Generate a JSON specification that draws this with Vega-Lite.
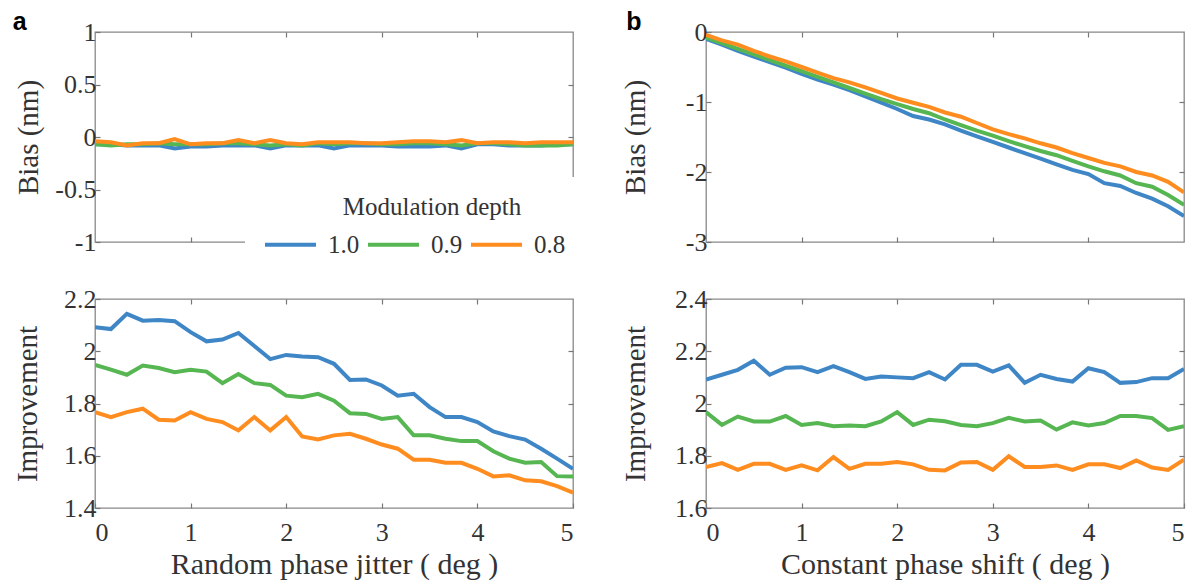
{
  "$schema": "https://vega.github.io/schema/vega-lite/v6.json",
  "padding": {"left": 12, "top": 9, "right": 5, "bottom": 2},
  "background": "white",
  "config": {
    "view": {"stroke": "#888", "strokeWidth": 1.3},
    "axis": {"domain": false, "grid": false, "tickSize": -5, "tickColor": "#777", "tickWidth": 1.2, "labelFont": "Liberation Serif, Times New Roman, serif", "labelFontSize": 26, "labelColor": "#333", "titleFont": "Liberation Serif, Times New Roman, serif", "titleFontSize": 29, "titleFontWeight": "normal", "titleColor": "#333", "labelPadding": 8},
    "axisX": {"labelPadding": 16, "titlePadding": 4, "titleFontSize": 30},
    "axisY": {"labelPadding": 4, "titlePadding": 16},
    "title": {"font": "Liberation Sans, Arial, sans-serif", "fontSize": 25, "fontWeight": "bold", "color": "#000", "anchor": "start", "frame": "bounds"}
  },
  "data": {"values": [
    {"p":"A1","d":"1.0","x":0,"y":-0.07},{"p":"A1","d":"1.0","x":0.1667,"y":-0.07},{"p":"A1","d":"1.0","x":0.3333,"y":-0.08},{"p":"A1","d":"1.0","x":0.5,"y":-0.08},{"p":"A1","d":"1.0","x":0.6667,"y":-0.08},{"p":"A1","d":"1.0","x":0.8333,"y":-0.11},{"p":"A1","d":"1.0","x":1,"y":-0.09},{"p":"A1","d":"1.0","x":1.1667,"y":-0.09},{"p":"A1","d":"1.0","x":1.3333,"y":-0.08},{"p":"A1","d":"1.0","x":1.5,"y":-0.08},{"p":"A1","d":"1.0","x":1.6667,"y":-0.08},{"p":"A1","d":"1.0","x":1.8333,"y":-0.11},{"p":"A1","d":"1.0","x":2,"y":-0.08},{"p":"A1","d":"1.0","x":2.1667,"y":-0.08},{"p":"A1","d":"1.0","x":2.3333,"y":-0.08},{"p":"A1","d":"1.0","x":2.5,"y":-0.11},{"p":"A1","d":"1.0","x":2.6667,"y":-0.08},{"p":"A1","d":"1.0","x":2.8333,"y":-0.08},{"p":"A1","d":"1.0","x":3,"y":-0.08},{"p":"A1","d":"1.0","x":3.1667,"y":-0.09},{"p":"A1","d":"1.0","x":3.3333,"y":-0.09},{"p":"A1","d":"1.0","x":3.5,"y":-0.09},{"p":"A1","d":"1.0","x":3.6667,"y":-0.08},{"p":"A1","d":"1.0","x":3.8333,"y":-0.11},{"p":"A1","d":"1.0","x":4,"y":-0.07},{"p":"A1","d":"1.0","x":4.1667,"y":-0.07},{"p":"A1","d":"1.0","x":4.3333,"y":-0.08},{"p":"A1","d":"1.0","x":4.5,"y":-0.08},{"p":"A1","d":"1.0","x":4.6667,"y":-0.08},{"p":"A1","d":"1.0","x":4.8333,"y":-0.07},{"p":"A1","d":"1.0","x":5,"y":-0.07},
    {"p":"A1","d":"0.9","x":0,"y":-0.07},{"p":"A1","d":"0.9","x":0.1667,"y":-0.08},{"p":"A1","d":"0.9","x":0.3333,"y":-0.07},{"p":"A1","d":"0.9","x":0.5,"y":-0.07},{"p":"A1","d":"0.9","x":0.6667,"y":-0.06},{"p":"A1","d":"0.9","x":0.8333,"y":-0.07},{"p":"A1","d":"0.9","x":1,"y":-0.07},{"p":"A1","d":"0.9","x":1.1667,"y":-0.07},{"p":"A1","d":"0.9","x":1.3333,"y":-0.06},{"p":"A1","d":"0.9","x":1.5,"y":-0.06},{"p":"A1","d":"0.9","x":1.6667,"y":-0.07},{"p":"A1","d":"0.9","x":1.8333,"y":-0.08},{"p":"A1","d":"0.9","x":2,"y":-0.07},{"p":"A1","d":"0.9","x":2.1667,"y":-0.08},{"p":"A1","d":"0.9","x":2.3333,"y":-0.06},{"p":"A1","d":"0.9","x":2.5,"y":-0.07},{"p":"A1","d":"0.9","x":2.6667,"y":-0.06},{"p":"A1","d":"0.9","x":2.8333,"y":-0.06},{"p":"A1","d":"0.9","x":3,"y":-0.07},{"p":"A1","d":"0.9","x":3.1667,"y":-0.07},{"p":"A1","d":"0.9","x":3.3333,"y":-0.06},{"p":"A1","d":"0.9","x":3.5,"y":-0.06},{"p":"A1","d":"0.9","x":3.6667,"y":-0.07},{"p":"A1","d":"0.9","x":3.8333,"y":-0.08},{"p":"A1","d":"0.9","x":4,"y":-0.06},{"p":"A1","d":"0.9","x":4.1667,"y":-0.06},{"p":"A1","d":"0.9","x":4.3333,"y":-0.07},{"p":"A1","d":"0.9","x":4.5,"y":-0.08},{"p":"A1","d":"0.9","x":4.6667,"y":-0.08},{"p":"A1","d":"0.9","x":4.8333,"y":-0.08},{"p":"A1","d":"0.9","x":5,"y":-0.07},
    {"p":"A1","d":"0.8","x":0,"y":-0.04},{"p":"A1","d":"0.8","x":0.1667,"y":-0.05},{"p":"A1","d":"0.8","x":0.3333,"y":-0.08},{"p":"A1","d":"0.8","x":0.5,"y":-0.06},{"p":"A1","d":"0.8","x":0.6667,"y":-0.06},{"p":"A1","d":"0.8","x":0.8333,"y":-0.02},{"p":"A1","d":"0.8","x":1,"y":-0.07},{"p":"A1","d":"0.8","x":1.1667,"y":-0.06},{"p":"A1","d":"0.8","x":1.3333,"y":-0.06},{"p":"A1","d":"0.8","x":1.5,"y":-0.03},{"p":"A1","d":"0.8","x":1.6667,"y":-0.06},{"p":"A1","d":"0.8","x":1.8333,"y":-0.03},{"p":"A1","d":"0.8","x":2,"y":-0.06},{"p":"A1","d":"0.8","x":2.1667,"y":-0.07},{"p":"A1","d":"0.8","x":2.3333,"y":-0.05},{"p":"A1","d":"0.8","x":2.5,"y":-0.05},{"p":"A1","d":"0.8","x":2.6667,"y":-0.05},{"p":"A1","d":"0.8","x":2.8333,"y":-0.06},{"p":"A1","d":"0.8","x":3,"y":-0.06},{"p":"A1","d":"0.8","x":3.1667,"y":-0.05},{"p":"A1","d":"0.8","x":3.3333,"y":-0.04},{"p":"A1","d":"0.8","x":3.5,"y":-0.04},{"p":"A1","d":"0.8","x":3.6667,"y":-0.05},{"p":"A1","d":"0.8","x":3.8333,"y":-0.03},{"p":"A1","d":"0.8","x":4,"y":-0.06},{"p":"A1","d":"0.8","x":4.1667,"y":-0.05},{"p":"A1","d":"0.8","x":4.3333,"y":-0.05},{"p":"A1","d":"0.8","x":4.5,"y":-0.06},{"p":"A1","d":"0.8","x":4.6667,"y":-0.05},{"p":"A1","d":"0.8","x":4.8333,"y":-0.05},{"p":"A1","d":"0.8","x":5,"y":-0.05},
    {"p":"B1","d":"1.0","x":0,"y":-0.10},{"p":"B1","d":"1.0","x":0.1667,"y":-0.18},{"p":"B1","d":"1.0","x":0.3333,"y":-0.27},{"p":"B1","d":"1.0","x":0.5,"y":-0.35},{"p":"B1","d":"1.0","x":0.6667,"y":-0.43},{"p":"B1","d":"1.0","x":0.8333,"y":-0.51},{"p":"B1","d":"1.0","x":1,"y":-0.60},{"p":"B1","d":"1.0","x":1.1667,"y":-0.68},{"p":"B1","d":"1.0","x":1.3333,"y":-0.75},{"p":"B1","d":"1.0","x":1.5,"y":-0.83},{"p":"B1","d":"1.0","x":1.6667,"y":-0.92},{"p":"B1","d":"1.0","x":1.8333,"y":-1.01},{"p":"B1","d":"1.0","x":2,"y":-1.10},{"p":"B1","d":"1.0","x":2.1667,"y":-1.20},{"p":"B1","d":"1.0","x":2.3333,"y":-1.25},{"p":"B1","d":"1.0","x":2.5,"y":-1.32},{"p":"B1","d":"1.0","x":2.6667,"y":-1.41},{"p":"B1","d":"1.0","x":2.8333,"y":-1.49},{"p":"B1","d":"1.0","x":3,"y":-1.57},{"p":"B1","d":"1.0","x":3.1667,"y":-1.65},{"p":"B1","d":"1.0","x":3.3333,"y":-1.73},{"p":"B1","d":"1.0","x":3.5,"y":-1.81},{"p":"B1","d":"1.0","x":3.6667,"y":-1.89},{"p":"B1","d":"1.0","x":3.8333,"y":-1.97},{"p":"B1","d":"1.0","x":4,"y":-2.03},{"p":"B1","d":"1.0","x":4.1667,"y":-2.16},{"p":"B1","d":"1.0","x":4.3333,"y":-2.20},{"p":"B1","d":"1.0","x":4.5,"y":-2.30},{"p":"B1","d":"1.0","x":4.6667,"y":-2.38},{"p":"B1","d":"1.0","x":4.8333,"y":-2.49},{"p":"B1","d":"1.0","x":5,"y":-2.63},
    {"p":"B1","d":"0.9","x":0,"y":-0.08},{"p":"B1","d":"0.9","x":0.1667,"y":-0.16},{"p":"B1","d":"0.9","x":0.3333,"y":-0.24},{"p":"B1","d":"0.9","x":0.5,"y":-0.32},{"p":"B1","d":"0.9","x":0.6667,"y":-0.40},{"p":"B1","d":"0.9","x":0.8333,"y":-0.48},{"p":"B1","d":"0.9","x":1,"y":-0.56},{"p":"B1","d":"0.9","x":1.1667,"y":-0.64},{"p":"B1","d":"0.9","x":1.3333,"y":-0.72},{"p":"B1","d":"0.9","x":1.5,"y":-0.80},{"p":"B1","d":"0.9","x":1.6667,"y":-0.88},{"p":"B1","d":"0.9","x":1.8333,"y":-0.96},{"p":"B1","d":"0.9","x":2,"y":-1.03},{"p":"B1","d":"0.9","x":2.1667,"y":-1.10},{"p":"B1","d":"0.9","x":2.3333,"y":-1.16},{"p":"B1","d":"0.9","x":2.5,"y":-1.25},{"p":"B1","d":"0.9","x":2.6667,"y":-1.33},{"p":"B1","d":"0.9","x":2.8333,"y":-1.41},{"p":"B1","d":"0.9","x":3,"y":-1.48},{"p":"B1","d":"0.9","x":3.1667,"y":-1.56},{"p":"B1","d":"0.9","x":3.3333,"y":-1.63},{"p":"B1","d":"0.9","x":3.5,"y":-1.70},{"p":"B1","d":"0.9","x":3.6667,"y":-1.76},{"p":"B1","d":"0.9","x":3.8333,"y":-1.84},{"p":"B1","d":"0.9","x":4,"y":-1.92},{"p":"B1","d":"0.9","x":4.1667,"y":-1.99},{"p":"B1","d":"0.9","x":4.3333,"y":-2.05},{"p":"B1","d":"0.9","x":4.5,"y":-2.16},{"p":"B1","d":"0.9","x":4.6667,"y":-2.21},{"p":"B1","d":"0.9","x":4.8333,"y":-2.33},{"p":"B1","d":"0.9","x":5,"y":-2.47},
    {"p":"B1","d":"0.8","x":0,"y":-0.04},{"p":"B1","d":"0.8","x":0.1667,"y":-0.12},{"p":"B1","d":"0.8","x":0.3333,"y":-0.18},{"p":"B1","d":"0.8","x":0.5,"y":-0.27},{"p":"B1","d":"0.8","x":0.6667,"y":-0.35},{"p":"B1","d":"0.8","x":0.8333,"y":-0.42},{"p":"B1","d":"0.8","x":1,"y":-0.50},{"p":"B1","d":"0.8","x":1.1667,"y":-0.58},{"p":"B1","d":"0.8","x":1.3333,"y":-0.66},{"p":"B1","d":"0.8","x":1.5,"y":-0.72},{"p":"B1","d":"0.8","x":1.6667,"y":-0.79},{"p":"B1","d":"0.8","x":1.8333,"y":-0.87},{"p":"B1","d":"0.8","x":2,"y":-0.95},{"p":"B1","d":"0.8","x":2.1667,"y":-1.01},{"p":"B1","d":"0.8","x":2.3333,"y":-1.07},{"p":"B1","d":"0.8","x":2.5,"y":-1.15},{"p":"B1","d":"0.8","x":2.6667,"y":-1.21},{"p":"B1","d":"0.8","x":2.8333,"y":-1.30},{"p":"B1","d":"0.8","x":3,"y":-1.39},{"p":"B1","d":"0.8","x":3.1667,"y":-1.46},{"p":"B1","d":"0.8","x":3.3333,"y":-1.52},{"p":"B1","d":"0.8","x":3.5,"y":-1.59},{"p":"B1","d":"0.8","x":3.6667,"y":-1.65},{"p":"B1","d":"0.8","x":3.8333,"y":-1.73},{"p":"B1","d":"0.8","x":4,"y":-1.80},{"p":"B1","d":"0.8","x":4.1667,"y":-1.87},{"p":"B1","d":"0.8","x":4.3333,"y":-1.92},{"p":"B1","d":"0.8","x":4.5,"y":-2.00},{"p":"B1","d":"0.8","x":4.6667,"y":-2.05},{"p":"B1","d":"0.8","x":4.8333,"y":-2.14},{"p":"B1","d":"0.8","x":5,"y":-2.29},
    {"p":"A2","d":"1.0","x":0,"y":2.092},{"p":"A2","d":"1.0","x":0.1667,"y":2.085},{"p":"A2","d":"1.0","x":0.3333,"y":2.143},{"p":"A2","d":"1.0","x":0.5,"y":2.117},{"p":"A2","d":"1.0","x":0.6667,"y":2.12},{"p":"A2","d":"1.0","x":0.8333,"y":2.115},{"p":"A2","d":"1.0","x":1,"y":2.073},{"p":"A2","d":"1.0","x":1.1667,"y":2.038},{"p":"A2","d":"1.0","x":1.3333,"y":2.045},{"p":"A2","d":"1.0","x":1.5,"y":2.07},{"p":"A2","d":"1.0","x":1.6667,"y":2.02},{"p":"A2","d":"1.0","x":1.8333,"y":1.97},{"p":"A2","d":"1.0","x":2,"y":1.986},{"p":"A2","d":"1.0","x":2.1667,"y":1.98},{"p":"A2","d":"1.0","x":2.3333,"y":1.977},{"p":"A2","d":"1.0","x":2.5,"y":1.952},{"p":"A2","d":"1.0","x":2.6667,"y":1.89},{"p":"A2","d":"1.0","x":2.8333,"y":1.892},{"p":"A2","d":"1.0","x":3,"y":1.869},{"p":"A2","d":"1.0","x":3.1667,"y":1.83},{"p":"A2","d":"1.0","x":3.3333,"y":1.837},{"p":"A2","d":"1.0","x":3.5,"y":1.786},{"p":"A2","d":"1.0","x":3.6667,"y":1.748},{"p":"A2","d":"1.0","x":3.8333,"y":1.748},{"p":"A2","d":"1.0","x":4,"y":1.729},{"p":"A2","d":"1.0","x":4.1667,"y":1.693},{"p":"A2","d":"1.0","x":4.3333,"y":1.675},{"p":"A2","d":"1.0","x":4.5,"y":1.662},{"p":"A2","d":"1.0","x":4.6667,"y":1.627},{"p":"A2","d":"1.0","x":4.8333,"y":1.589},{"p":"A2","d":"1.0","x":5,"y":1.55},
    {"p":"A2","d":"0.9","x":0,"y":1.948},{"p":"A2","d":"0.9","x":0.1667,"y":1.93},{"p":"A2","d":"0.9","x":0.3333,"y":1.91},{"p":"A2","d":"0.9","x":0.5,"y":1.945},{"p":"A2","d":"0.9","x":0.6667,"y":1.936},{"p":"A2","d":"0.9","x":0.8333,"y":1.92},{"p":"A2","d":"0.9","x":1,"y":1.929},{"p":"A2","d":"0.9","x":1.1667,"y":1.922},{"p":"A2","d":"0.9","x":1.3333,"y":1.878},{"p":"A2","d":"0.9","x":1.5,"y":1.913},{"p":"A2","d":"0.9","x":1.6667,"y":1.878},{"p":"A2","d":"0.9","x":1.8333,"y":1.871},{"p":"A2","d":"0.9","x":2,"y":1.83},{"p":"A2","d":"0.9","x":2.1667,"y":1.824},{"p":"A2","d":"0.9","x":2.3333,"y":1.837},{"p":"A2","d":"0.9","x":2.5,"y":1.811},{"p":"A2","d":"0.9","x":2.6667,"y":1.763},{"p":"A2","d":"0.9","x":2.8333,"y":1.76},{"p":"A2","d":"0.9","x":3,"y":1.741},{"p":"A2","d":"0.9","x":3.1667,"y":1.748},{"p":"A2","d":"0.9","x":3.3333,"y":1.678},{"p":"A2","d":"0.9","x":3.5,"y":1.678},{"p":"A2","d":"0.9","x":3.6667,"y":1.665},{"p":"A2","d":"0.9","x":3.8333,"y":1.656},{"p":"A2","d":"0.9","x":4,"y":1.656},{"p":"A2","d":"0.9","x":4.1667,"y":1.617},{"p":"A2","d":"0.9","x":4.3333,"y":1.589},{"p":"A2","d":"0.9","x":4.5,"y":1.573},{"p":"A2","d":"0.9","x":4.6667,"y":1.576},{"p":"A2","d":"0.9","x":4.8333,"y":1.522},{"p":"A2","d":"0.9","x":5,"y":1.521},
    {"p":"A2","d":"0.8","x":0,"y":1.767},{"p":"A2","d":"0.8","x":0.1667,"y":1.748},{"p":"A2","d":"0.8","x":0.3333,"y":1.767},{"p":"A2","d":"0.8","x":0.5,"y":1.78},{"p":"A2","d":"0.8","x":0.6667,"y":1.738},{"p":"A2","d":"0.8","x":0.8333,"y":1.735},{"p":"A2","d":"0.8","x":1,"y":1.767},{"p":"A2","d":"0.8","x":1.1667,"y":1.741},{"p":"A2","d":"0.8","x":1.3333,"y":1.729},{"p":"A2","d":"0.8","x":1.5,"y":1.697},{"p":"A2","d":"0.8","x":1.6667,"y":1.748},{"p":"A2","d":"0.8","x":1.8333,"y":1.697},{"p":"A2","d":"0.8","x":2,"y":1.748},{"p":"A2","d":"0.8","x":2.1667,"y":1.674},{"p":"A2","d":"0.8","x":2.3333,"y":1.662},{"p":"A2","d":"0.8","x":2.5,"y":1.678},{"p":"A2","d":"0.8","x":2.6667,"y":1.684},{"p":"A2","d":"0.8","x":2.8333,"y":1.665},{"p":"A2","d":"0.8","x":3,"y":1.643},{"p":"A2","d":"0.8","x":3.1667,"y":1.627},{"p":"A2","d":"0.8","x":3.3333,"y":1.585},{"p":"A2","d":"0.8","x":3.5,"y":1.585},{"p":"A2","d":"0.8","x":3.6667,"y":1.573},{"p":"A2","d":"0.8","x":3.8333,"y":1.573},{"p":"A2","d":"0.8","x":4,"y":1.55},{"p":"A2","d":"0.8","x":4.1667,"y":1.521},{"p":"A2","d":"0.8","x":4.3333,"y":1.525},{"p":"A2","d":"0.8","x":4.5,"y":1.506},{"p":"A2","d":"0.8","x":4.6667,"y":1.502},{"p":"A2","d":"0.8","x":4.8333,"y":1.484},{"p":"A2","d":"0.8","x":5,"y":1.459},
    {"p":"B2","d":"1.0","x":0,"y":2.092},{"p":"B2","d":"1.0","x":0.1667,"y":2.11},{"p":"B2","d":"1.0","x":0.3333,"y":2.129},{"p":"B2","d":"1.0","x":0.5,"y":2.164},{"p":"B2","d":"1.0","x":0.6667,"y":2.11},{"p":"B2","d":"1.0","x":0.8333,"y":2.137},{"p":"B2","d":"1.0","x":1,"y":2.139},{"p":"B2","d":"1.0","x":1.1667,"y":2.12},{"p":"B2","d":"1.0","x":1.3333,"y":2.143},{"p":"B2","d":"1.0","x":1.5,"y":2.12},{"p":"B2","d":"1.0","x":1.6667,"y":2.094},{"p":"B2","d":"1.0","x":1.8333,"y":2.103},{"p":"B2","d":"1.0","x":2,"y":2.1},{"p":"B2","d":"1.0","x":2.1667,"y":2.097},{"p":"B2","d":"1.0","x":2.3333,"y":2.12},{"p":"B2","d":"1.0","x":2.5,"y":2.092},{"p":"B2","d":"1.0","x":2.6667,"y":2.148},{"p":"B2","d":"1.0","x":2.8333,"y":2.148},{"p":"B2","d":"1.0","x":3,"y":2.122},{"p":"B2","d":"1.0","x":3.1667,"y":2.146},{"p":"B2","d":"1.0","x":3.3333,"y":2.079},{"p":"B2","d":"1.0","x":3.5,"y":2.11},{"p":"B2","d":"1.0","x":3.6667,"y":2.094},{"p":"B2","d":"1.0","x":3.8333,"y":2.084},{"p":"B2","d":"1.0","x":4,"y":2.135},{"p":"B2","d":"1.0","x":4.1667,"y":2.12},{"p":"B2","d":"1.0","x":4.3333,"y":2.079},{"p":"B2","d":"1.0","x":4.5,"y":2.082},{"p":"B2","d":"1.0","x":4.6667,"y":2.097},{"p":"B2","d":"1.0","x":4.8333,"y":2.097},{"p":"B2","d":"1.0","x":5,"y":2.132},
    {"p":"B2","d":"0.9","x":0,"y":1.967},{"p":"B2","d":"0.9","x":0.1667,"y":1.918},{"p":"B2","d":"0.9","x":0.3333,"y":1.95},{"p":"B2","d":"0.9","x":0.5,"y":1.931},{"p":"B2","d":"0.9","x":0.6667,"y":1.931},{"p":"B2","d":"0.9","x":0.8333,"y":1.952},{"p":"B2","d":"0.9","x":1,"y":1.918},{"p":"B2","d":"0.9","x":1.1667,"y":1.925},{"p":"B2","d":"0.9","x":1.3333,"y":1.913},{"p":"B2","d":"0.9","x":1.5,"y":1.916},{"p":"B2","d":"0.9","x":1.6667,"y":1.913},{"p":"B2","d":"0.9","x":1.8333,"y":1.931},{"p":"B2","d":"0.9","x":2,"y":1.967},{"p":"B2","d":"0.9","x":2.1667,"y":1.918},{"p":"B2","d":"0.9","x":2.3333,"y":1.938},{"p":"B2","d":"0.9","x":2.5,"y":1.932},{"p":"B2","d":"0.9","x":2.6667,"y":1.918},{"p":"B2","d":"0.9","x":2.8333,"y":1.913},{"p":"B2","d":"0.9","x":3,"y":1.925},{"p":"B2","d":"0.9","x":3.1667,"y":1.945},{"p":"B2","d":"0.9","x":3.3333,"y":1.931},{"p":"B2","d":"0.9","x":3.5,"y":1.935},{"p":"B2","d":"0.9","x":3.6667,"y":1.9},{"p":"B2","d":"0.9","x":3.8333,"y":1.928},{"p":"B2","d":"0.9","x":4,"y":1.916},{"p":"B2","d":"0.9","x":4.1667,"y":1.925},{"p":"B2","d":"0.9","x":4.3333,"y":1.952},{"p":"B2","d":"0.9","x":4.5,"y":1.952},{"p":"B2","d":"0.9","x":4.6667,"y":1.944},{"p":"B2","d":"0.9","x":4.8333,"y":1.899},{"p":"B2","d":"0.9","x":5,"y":1.913},
    {"p":"B2","d":"0.8","x":0,"y":1.757},{"p":"B2","d":"0.8","x":0.1667,"y":1.772},{"p":"B2","d":"0.8","x":0.3333,"y":1.746},{"p":"B2","d":"0.8","x":0.5,"y":1.769},{"p":"B2","d":"0.8","x":0.6667,"y":1.769},{"p":"B2","d":"0.8","x":0.8333,"y":1.746},{"p":"B2","d":"0.8","x":1,"y":1.763},{"p":"B2","d":"0.8","x":1.1667,"y":1.744},{"p":"B2","d":"0.8","x":1.3333,"y":1.795},{"p":"B2","d":"0.8","x":1.5,"y":1.75},{"p":"B2","d":"0.8","x":1.6667,"y":1.769},{"p":"B2","d":"0.8","x":1.8333,"y":1.769},{"p":"B2","d":"0.8","x":2,"y":1.776},{"p":"B2","d":"0.8","x":2.1667,"y":1.767},{"p":"B2","d":"0.8","x":2.3333,"y":1.746},{"p":"B2","d":"0.8","x":2.5,"y":1.744},{"p":"B2","d":"0.8","x":2.6667,"y":1.774},{"p":"B2","d":"0.8","x":2.8333,"y":1.776},{"p":"B2","d":"0.8","x":3,"y":1.746},{"p":"B2","d":"0.8","x":3.1667,"y":1.798},{"p":"B2","d":"0.8","x":3.3333,"y":1.757},{"p":"B2","d":"0.8","x":3.5,"y":1.757},{"p":"B2","d":"0.8","x":3.6667,"y":1.763},{"p":"B2","d":"0.8","x":3.8333,"y":1.746},{"p":"B2","d":"0.8","x":4,"y":1.767},{"p":"B2","d":"0.8","x":4.1667,"y":1.767},{"p":"B2","d":"0.8","x":4.3333,"y":1.753},{"p":"B2","d":"0.8","x":4.5,"y":1.782},{"p":"B2","d":"0.8","x":4.6667,"y":1.755},{"p":"B2","d":"0.8","x":4.8333,"y":1.746},{"p":"B2","d":"0.8","x":5,"y":1.785}
  ]},
  "columns": 2,
  "bounds": "flush",
  "spacing": {"row": 57, "column": 133},
  "resolve": {"legend": {"color": "independent"}},
  "concat": [
    {
      "width": 478, "height": 210,
      "title": {"text": "a", "dx": -2, "offset": -16},
      "transform": [{"filter": "datum.p == 'A1'"}],
      "layer": [
        {"mark": {"type": "line", "strokeWidth": 4, "clip": true},
         "encoding": {
           "x": {"field": "x", "type": "quantitative", "scale": {"domain": [0, 5], "nice": false, "zero": false}, "axis": {"values": [1, 2, 3, 4], "labels": false, "title": null}},
           "y": {"field": "y", "type": "quantitative", "scale": {"domain": [-1, 1], "nice": false, "zero": false}, "axis": {"values": [-1, -0.5, 0, 0.5, 1], "labelExpr": "toString(datum.value)", "title": "Bias (nm)", "titlePadding": 11}},
           "color": {"field": "d", "type": "nominal", "sort": ["1.0", "0.9", "0.8"], "scale": {"domain": ["1.0", "0.9", "0.8"], "range": ["#3f86c6", "#56b651", "#ff8c1f"]},
             "legend": {"orient": "none", "legendX": 150, "legendY": 145, "direction": "horizontal", "title": "\u2800\u2800Modulation depth", "titleLimit": 600, "titleFont": "Liberation Serif, Times New Roman, serif", "titleFontSize": 25, "titleFontWeight": "normal", "titleColor": "#333", "titleAnchor": "middle", "titlePadding": -3, "labelFont": "Liberation Serif, Times New Roman, serif", "labelFontSize": 25, "labelColor": "#333", "labelOffset": 10, "columnPadding": 0, "symbolType": "stroke", "symbolSize": 2600, "symbolStrokeWidth": 4, "fillColor": "white", "padding": 18}}
         }},
        {"mark": {"type": "line", "strokeOpacity": 0},
         "encoding": {
           "x": {"field": "x", "type": "quantitative", "axis": {"orient": "top", "values": [1, 2, 3, 4], "labels": false, "title": null}},
           "y": {"field": "y", "type": "quantitative", "axis": {"orient": "right", "values": [-0.5, 0, 0.5], "labels": false, "title": null}},
           "detail": {"field": "d"}
         }}
      ],
      "resolve": {"axis": {"x": "independent", "y": "independent"}}
    },
    {
      "width": 478, "height": 210,
      "title": {"text": "b", "dx": 5, "offset": -16},
      "transform": [{"filter": "datum.p == 'B1'"}],
      "layer": [
        {"mark": {"type": "line", "strokeWidth": 4, "clip": true},
         "encoding": {
           "x": {"field": "x", "type": "quantitative", "scale": {"domain": [0, 5], "nice": false, "zero": false}, "axis": {"values": [1, 2, 3, 4], "labels": false, "title": null}},
           "y": {"field": "y", "type": "quantitative", "scale": {"domain": [-3, 0], "nice": false, "zero": false}, "axis": {"values": [-3, -2, -1, 0], "labelExpr": "toString(datum.value)", "title": "Bias (nm)", "titlePadding": 35}},
           "color": {"field": "d", "type": "nominal", "scale": {"domain": ["1.0", "0.9", "0.8"], "range": ["#3f86c6", "#56b651", "#ff8c1f"]}, "legend": null}
         }},
        {"mark": {"type": "line", "strokeOpacity": 0},
         "encoding": {
           "x": {"field": "x", "type": "quantitative", "axis": {"orient": "top", "values": [1, 2, 3, 4], "labels": false, "title": null}},
           "y": {"field": "y", "type": "quantitative", "axis": {"orient": "right", "values": [-2, -1], "labels": false, "title": null}},
           "detail": {"field": "d"}
         }}
      ],
      "resolve": {"axis": {"x": "independent", "y": "independent"}}
    },
    {
      "width": 478, "height": 209,
      "transform": [{"filter": "datum.p == 'A2'"}],
      "layer": [
        {"mark": {"type": "line", "strokeWidth": 4, "clip": true},
         "encoding": {
           "x": {"field": "x", "type": "quantitative", "scale": {"domain": [0, 5], "nice": false, "zero": false}, "axis": {"values": [0, 1, 2, 3, 4, 5], "title": "Random phase jitter ( deg )"}},
           "y": {"field": "y", "type": "quantitative", "scale": {"domain": [1.4, 2.2], "nice": false, "zero": false}, "axis": {"values": [1.4, 1.6, 1.8, 2, 2.2], "labelExpr": "toString(datum.value)", "title": "Improvement", "titlePadding": 21}},
           "color": {"field": "d", "type": "nominal", "scale": {"domain": ["1.0", "0.9", "0.8"], "range": ["#3f86c6", "#56b651", "#ff8c1f"]}, "legend": null}
         }},
        {"mark": {"type": "line", "strokeOpacity": 0},
         "encoding": {
           "x": {"field": "x", "type": "quantitative", "axis": {"orient": "top", "values": [1, 2, 3, 4], "labels": false, "title": null}},
           "y": {"field": "y", "type": "quantitative", "axis": {"orient": "right", "values": [1.6, 1.8, 2], "labels": false, "title": null}},
           "detail": {"field": "d"}
         }}
      ],
      "resolve": {"axis": {"x": "independent", "y": "independent"}}
    },
    {
      "width": 478, "height": 209,
      "transform": [{"filter": "datum.p == 'B2'"}],
      "layer": [
        {"mark": {"type": "line", "strokeWidth": 4, "clip": true},
         "encoding": {
           "x": {"field": "x", "type": "quantitative", "scale": {"domain": [0, 5], "nice": false, "zero": false}, "axis": {"values": [0, 1, 2, 3, 4, 5], "title": "Constant phase shift ( deg )"}},
           "y": {"field": "y", "type": "quantitative", "scale": {"domain": [1.6, 2.4], "nice": false, "zero": false}, "axis": {"values": [1.6, 1.8, 2, 2.2, 2.4], "labelExpr": "toString(datum.value)", "title": "Improvement", "titlePadding": 24}},
           "color": {"field": "d", "type": "nominal", "scale": {"domain": ["1.0", "0.9", "0.8"], "range": ["#3f86c6", "#56b651", "#ff8c1f"]}, "legend": null}
         }},
        {"mark": {"type": "line", "strokeOpacity": 0},
         "encoding": {
           "x": {"field": "x", "type": "quantitative", "axis": {"orient": "top", "values": [1, 2, 3, 4], "labels": false, "title": null}},
           "y": {"field": "y", "type": "quantitative", "axis": {"orient": "right", "values": [1.8, 2, 2.2], "labels": false, "title": null}},
           "detail": {"field": "d"}
         }}
      ],
      "resolve": {"axis": {"x": "independent", "y": "independent"}}
    }
  ]
}
